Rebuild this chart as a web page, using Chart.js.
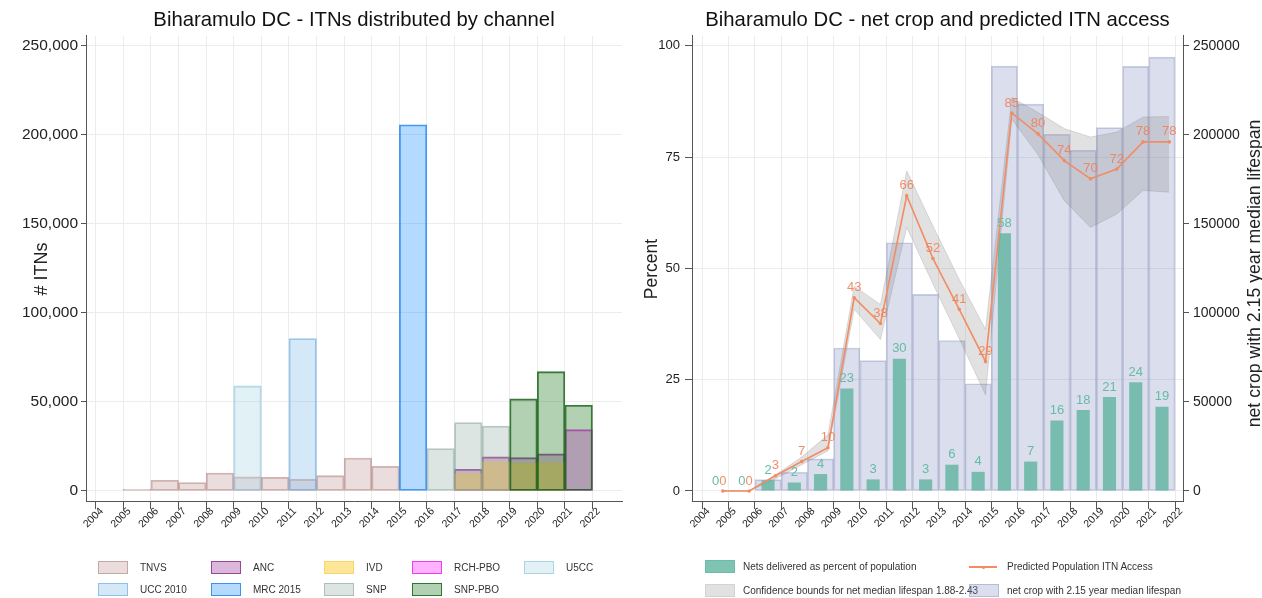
<!DOCTYPE html>
<html>
<head>
<meta charset="utf-8">
<script src="https://cdn.jsdelivr.net/npm/chart.js@4.4.1/dist/chart.umd.min.js"></script>
<style>
  html, body { margin: 0; padding: 0; background: #fff; }
  body { width: 1262px; height: 598px; position: relative; overflow: hidden;
         font-family: 'Liberation Sans', Arial, sans-serif; }
  canvas { position: absolute; top: 0; }
  #left { left: 0; }
  #right { left: 631px; }
  .lg-text { position: absolute; font-size: 10px; color: #333; line-height: 13px; white-space: nowrap; }
  .lg-box { position: absolute; width: 30px; height: 13px; box-sizing: border-box; }
  .lg-line { position: absolute; width: 28px; height: 2px; }
  .lg-dot { position: absolute; width: 3px; height: 3px; border-radius: 50%; }
</style>
</head>
<body>
<canvas id="left" width="631" height="598"></canvas>
<canvas id="right" width="631" height="598"></canvas>
<div id="legendLeft"></div>
<div id="legendRight"></div>
<script>
// ---- axis ticks ----
const yearTicks = [2004, 2005, 2006, 2007, 2008, 2009, 2010, 2011, 2012, 2013, 2014, 2015, 2016, 2017, 2018, 2019, 2020, 2021, 2022];
const itnTicks = [0, 50000, 100000, 150000, 200000, 250000];
const pctTicks = [0, 25, 50, 75, 100];
const cropTicks = [0, 50000, 100000, 150000, 200000, 250000];

// ---- ITNs distributed by channel, one value per year 2005..2021 ----
const channelYears = [2005, 2006, 2007, 2008, 2009, 2010, 2011, 2012, 2013, 2014, 2015, 2016, 2017, 2018, 2019, 2020, 2021];
const tnvs    = [900, 6000, 4700, 10100, 7900, 7700, 6600, 8600, 18500, 13900, null, null, null, null, null, null, null];
const anc     = [null, null, null, null, null, null, null, null, null, null, null, null, 12200, 19100, 18700, 20800, null];
const ivd     = [null, null, null, null, null, null, null, null, null, null, null, null, 9900, 16500, 15500, 15900, null];
const rchPbo  = [null, null, null, null, null, null, null, null, null, null, null, null, null, null, null, null, 34400];
const u5cc    = [null, null, null, null, 59000, null, null, null, null, null, null, null, null, null, null, null, null];
const ucc2010 = [null, null, null, null, null, null, 85600, null, null, null, null, null, null, null, null, null, null];
const mrc2015 = [null, null, null, null, null, null, null, null, null, null, 205600, null, null, null, null, null, null];
const snp     = [null, null, null, null, null, null, null, null, null, null, null, 23800, 38400, 36500, null, null, null];
const snpPbo  = [null, null, null, null, null, null, null, null, null, null, null, null, null, null, 51700, 67000, 48100];

// ---- net crop and predicted access, one value per year 2004..2021 ----
const accessYears = [2004, 2005, 2006, 2007, 2008, 2009, 2010, 2011, 2012, 2013, 2014, 2015, 2016, 2017, 2018, 2019, 2020, 2021];
const netsDeliveredPct = [0, 0, 2.4, 1.9, 3.8, 23.0, 2.6, 29.7, 2.6, 5.9, 4.3, 57.9, 6.6, 15.8, 18.2, 21.1, 24.4, 18.9];
const predictedAccess  = [0, 0, 3.4, 6.6, 9.7, 43.4, 37.6, 66.3, 52.2, 40.8, 29.1, 84.9, 80.2, 74.2, 70.1, 72.3, 78.4, 78.4];
const accessLow        = [0, 0, 2.7, 5.9, 9.0, 40.8, 34.0, 59.2, 46.5, 34.2, 21.6, 83.5, 75.5, 65.2, 59.2, 62.2, 67.5, 67.1];
const accessHigh       = [0, 0, 3.6, 7.6, 12.6, 46.0, 41.9, 71.9, 59.5, 47.5, 36.3, 88.4, 85.0, 81.4, 79.5, 80.6, 84.0, 84.1];
const netCrop          = [0, 0, 6400, 10500, 18000, 80300, 73200, 139400, 110400, 84500, 60200, 238600, 217200, 200300, 191300, 204000, 238400, 243600];

// bars span the whole year; access estimates sit late in the year
const BAR_SHIFT = 0.5;
const ACCESS_SHIFT = 0.78;

Chart.defaults.font.family = "'Liberation Sans', Arial, Helvetica, sans-serif";
Chart.defaults.color = '#222';
Chart.defaults.animation = false;

const GRID = '#ececec';
const AXIS = '#555';
const TITLE_FONT = { size: 20.3, weight: 'normal' };
const TITLE_PAD = { top: 8.5, bottom: 3.1 };

const pairs = (xs, ys, shift) => xs.map((x, i) => ({ x: x + shift, y: ys[i] }));
const fixTicks = list => scale => { scale.ticks = list.map(v => ({ value: v })); };

// ---- small plugins ----
const valueLabels = {
  id: 'valueLabels',
  afterDatasetsDraw(chart) {
    const ctx = chart.ctx;
    chart.data.datasets.forEach((ds, i) => {
      if (!ds.labelColor) return;
      const meta = chart.getDatasetMeta(i);
      ctx.save();
      ctx.font = "13px 'Liberation Sans', Arial, sans-serif";
      ctx.fillStyle = ds.labelColor;
      ctx.textAlign = 'center';
      ctx.textBaseline = 'middle';
      meta.data.forEach((el, j) => {
        const v = ds.data[j].y;
        if (v === null || v === undefined) return;
        ctx.fillText(String(Math.round(v)), el.x, el.y - 10);
      });
      ctx.restore();
    });
  }
};

const sideTitle = {
  id: 'sideTitle',
  afterDraw(chart, args, opts) {
    if (!opts || !opts.text) return;
    const ctx = chart.ctx;
    const a = chart.chartArea;
    ctx.save();
    ctx.translate(opts.x, (a.top + a.bottom) / 2 + (opts.dy || 0));
    ctx.rotate(-Math.PI / 2);
    ctx.font = (opts.size || 16) + "px 'Liberation Sans', Arial, sans-serif";
    ctx.fillStyle = '#222';
    ctx.textAlign = 'center';
    ctx.textBaseline = 'middle';
    ctx.fillText(opts.text, 0, 0);
    ctx.restore();
  }
};

const xScale = (min, max) => ({
  type: 'linear', min, max, offset: false,
  afterBuildTicks: fixTicks(yearTicks),
  ticks: { autoSkip: false, minRotation: 45, maxRotation: 45, font: { size: 10.5 }, padding: -4,
           labelOffset: 6, callback: v => String(v) },
  grid: { color: GRID, tickColor: AXIS, tickLength: 7, offset: false },
  border: { color: AXIS, width: 1 },
  afterFit: s => { s.height = 96; }
});

// ---- left: ITNs distributed by channel ----
const channels = [
  { name: 'TNVS',     data: tnvs,    fill: 'rgba(188,143,143,0.30)', line: 'rgba(170,120,115,0.55)' },
  { name: 'ANC',      data: anc,     fill: 'rgba(153,50,153,0.35)',  line: 'rgba(140,50,140,0.85)' },
  { name: 'IVD',      data: ivd,     fill: 'rgba(252,205,50,0.50)',  line: 'rgba(245,200,60,0.50)' },
  { name: 'RCH-PBO',  data: rchPbo,  fill: 'rgba(255,0,255,0.30)',   line: 'rgba(235,40,235,0.85)' },
  { name: 'U5CC',     data: u5cc,    fill: 'rgba(173,216,230,0.35)', line: 'rgba(150,200,220,0.70)' },
  { name: 'UCC 2010', data: ucc2010, fill: 'rgba(135,190,235,0.35)', line: 'rgba(120,180,230,0.75)' },
  { name: 'MRC 2015', data: mrc2015, fill: 'rgba(30,144,255,0.33)',  line: 'rgba(30,130,235,0.80)' },
  { name: 'SNP',      data: snp,     fill: 'rgba(143,170,160,0.30)', line: 'rgba(130,160,150,0.55)' },
  { name: 'SNP-PBO',  data: snpPbo,  fill: 'rgba(34,120,34,0.35)',   line: 'rgba(25,100,25,0.85)' }
];

new Chart(document.getElementById('left'), {
  type: 'bar',
  data: {
    datasets: channels.map((c, i) => ({
      label: c.name,
      data: pairs(channelYears, c.data, BAR_SHIFT),
      backgroundColor: c.fill,
      borderColor: c.line,
      borderWidth: 1.2,
      borderSkipped: false,
      grouped: false,
      barPercentage: 1,
      categoryPercentage: 1,
      order: channels.length - i
    }))
  },
  options: {
    responsive: false,
    layout: { padding: { left: 0, right: 9, top: 0, bottom: 0 } },
    plugins: {
      legend: { display: false },
      tooltip: { enabled: false },
      title: { display: true, text: 'Biharamulo DC - ITNs distributed by channel', fullSize: false,
               font: TITLE_FONT, color: '#111', padding: TITLE_PAD }
    },
    scales: {
      x: xScale(2003.648, 2023.07),
      y: {
        min: -6200, max: 255500,
        afterBuildTicks: fixTicks(itnTicks),
        ticks: { font: { size: 15.5 }, padding: 3, callback: v => v.toLocaleString('en-US') },
        grid: { color: GRID, tickColor: AXIS, tickLength: 5 },
        border: { color: AXIS, width: 1 },
        title: { display: true, text: '# ITNs', font: { size: 18 }, color: '#222', padding: { top: 31.2, bottom: 0 } },
        afterFit: s => { s.width = 86; }
      }
    }
  }
});

// ---- right: net crop and predicted ITN access ----
const teal = 'rgba(95,180,160,0.80)';
const orange = '#f28c64';
const lavenderFill = 'rgba(125,135,185,0.28)';
const lavenderLine = 'rgba(125,135,185,0.40)';
const bandFill = 'rgba(120,120,120,0.22)';

new Chart(document.getElementById('right'), {
  type: 'bar',
  data: {
    datasets: [
      { type: 'line', label: 'Predicted Population ITN Access', data: pairs(accessYears, predictedAccess, ACCESS_SHIFT),
        yAxisID: 'y', borderColor: orange, backgroundColor: orange, borderWidth: 1.6, pointRadius: 1,
        tension: 0, fill: false, order: 1, labelColor: 'rgba(240,130,90,0.9)' },
      { type: 'bar', label: 'Nets delivered as percent of population', data: pairs(accessYears, netsDeliveredPct, BAR_SHIFT),
        yAxisID: 'y', backgroundColor: teal, borderWidth: 0, grouped: false,
        barPercentage: 0.5, categoryPercentage: 1, order: 2, labelColor: '#66bca6' },
      { type: 'line', label: 'Confidence bounds for net median lifespan 1.88-2.43', data: pairs(accessYears, accessHigh, ACCESS_SHIFT),
        yAxisID: 'y', borderColor: 'rgba(130,130,130,0.3)', borderWidth: 0.8, pointRadius: 0,
        backgroundColor: bandFill, fill: 3, tension: 0, order: 3 },
      { type: 'line', label: 'lower bound', data: pairs(accessYears, accessLow, ACCESS_SHIFT),
        yAxisID: 'y', borderColor: 'rgba(130,130,130,0.3)', borderWidth: 0.8, pointRadius: 0,
        fill: false, tension: 0, order: 3 },
      { type: 'bar', label: 'net crop with 2.15 year median lifespan', data: pairs(accessYears, netCrop, BAR_SHIFT),
        yAxisID: 'y2', backgroundColor: lavenderFill, borderColor: lavenderLine, borderWidth: 1,
        borderSkipped: false, grouped: false, barPercentage: 1, categoryPercentage: 1, order: 5 }
    ]
  },
  options: {
    responsive: false,
    layout: { padding: 0 },
    plugins: {
      legend: { display: false },
      tooltip: { enabled: false },
      filler: { propagate: false },
      title: { display: true, text: 'Biharamulo DC - net crop and predicted ITN access', fullSize: false,
               font: TITLE_FONT, color: '#111', padding: TITLE_PAD },
      sideTitle: { text: 'net crop with 2.15 year median lifespan', x: 624, size: 17.7, dy: 4.5 }
    },
    scales: {
      x: xScale(2003.604, 2022.3),
      y: {
        position: 'left', min: -2.48, max: 102.2,
        afterBuildTicks: fixTicks(pctTicks),
        ticks: { font: { size: 13 }, padding: 5, callback: v => String(v) },
        grid: { color: GRID, tickColor: AXIS, tickLength: 7 },
        border: { color: AXIS, width: 1 },
        title: { display: true, text: 'Percent', font: { size: 17.5 }, color: '#222', padding: { top: 10.5, bottom: 0 } },
        afterFit: s => { s.width = 61; }
      },
      y2: {
        position: 'right', min: -6200, max: 255500,
        afterBuildTicks: fixTicks(cropTicks),
        ticks: { font: { size: 14 }, padding: 4, callback: v => String(v) },
        grid: { drawOnChartArea: false, tickColor: AXIS, tickLength: 6 },
        border: { color: AXIS, width: 1 },
        afterFit: s => { s.width = 79; }
      }
    }
  },
  plugins: [valueLabels, sideTitle]
});

// ---- legends ----
function addBox(parent, x, y, fill, line) {
  const d = document.createElement('div');
  d.className = 'lg-box';
  d.style.left = x + 'px'; d.style.top = y + 'px';
  d.style.background = fill;
  d.style.border = '1.5px solid ' + line;
  parent.appendChild(d);
}
function addText(parent, x, y, text) {
  const t = document.createElement('div');
  t.className = 'lg-text';
  t.style.left = x + 'px'; t.style.top = y + 'px';
  t.textContent = text;
  parent.appendChild(t);
}

const leftCols = [98, 211, 324, 412, 524];
const leftRows = [561, 583];
const legendLeft = document.getElementById('legendLeft');
channels.forEach((c, i) => {
  const x = leftCols[i % 5], y = leftRows[Math.floor(i / 5)];
  addBox(legendLeft, x, y, c.fill, c.line);
  addText(legendLeft, x + 42, y, c.name);
});

const legendRight = document.getElementById('legendRight');
addBox(legendRight, 705, 560, teal, 'rgba(95,180,160,0.5)');
addText(legendRight, 743, 560, 'Nets delivered as percent of population');
addBox(legendRight, 705, 584, bandFill, 'rgba(130,130,130,0.15)');
addText(legendRight, 743, 584, 'Confidence bounds for net median lifespan 1.88-2.43');
const ln = document.createElement('div');
ln.className = 'lg-line';
ln.style.left = '969px'; ln.style.top = '566px'; ln.style.background = orange;
legendRight.appendChild(ln);
const dot = document.createElement('div');
dot.className = 'lg-dot';
dot.style.left = '982px'; dot.style.top = '565.5px'; dot.style.background = orange;
legendRight.appendChild(dot);
addText(legendRight, 1007, 560, 'Predicted Population ITN Access');
addBox(legendRight, 969, 584, lavenderFill, lavenderLine);
addText(legendRight, 1007, 584, 'net crop with 2.15 year median lifespan');
</script>
</body>
</html>
